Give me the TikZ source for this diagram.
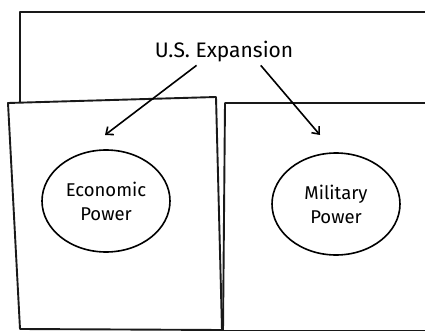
\documentclass[tikz,border=0pt]{standalone}
\usepackage{fontspec}
\setmainfont{Fira Sans}
\usetikzlibrary{shapes.geometric,arrows.meta}

\begin{document}
\begin{tikzpicture}[x=1pt, y=-1pt, line width=1.9pt, line join=round,
    bubble/.style={draw, ellipse, line width=1.6pt, minimum width=128pt,
      minimum height=102pt, align=center, font=\fontsize{18.5}{24}\selectfont},
    panel/.style={fill=white, draw=black!90},
    link/.style={-{Straight Barb[length=6pt,width=10pt]}, line width=1.6pt}]
      \useasboundingbox (0,0) rectangle (425,331);
      \fill[white] (0,0) rectangle (425,331);

      \draw[black!90] (20,110) -- (20,12) -- (440,12);

      \draw[panel] (8,103) -- (216,97) -- (222,330) -- (20,329) -- cycle;
      \draw[panel] (440,103) -- (225,103) -- (223,331) -- (440,331);

      \node[font=\fontsize{21}{24}\selectfont, inner sep=2pt] (title) at (224,52) {U.S.\ Expansion};

      \node[bubble] (econ) at (106,201) {Economic\\Power};
      \node[bubble] (mil) at (336,204) {Military\\Power};

      \coordinate (econ tip) at (105,135);
      \coordinate (mil tip) at (320,135);

      \draw[link] (title.206) -- (econ tip);
      \draw[link] (title.340) -- (mil tip);
\end{tikzpicture}
\end{document}
